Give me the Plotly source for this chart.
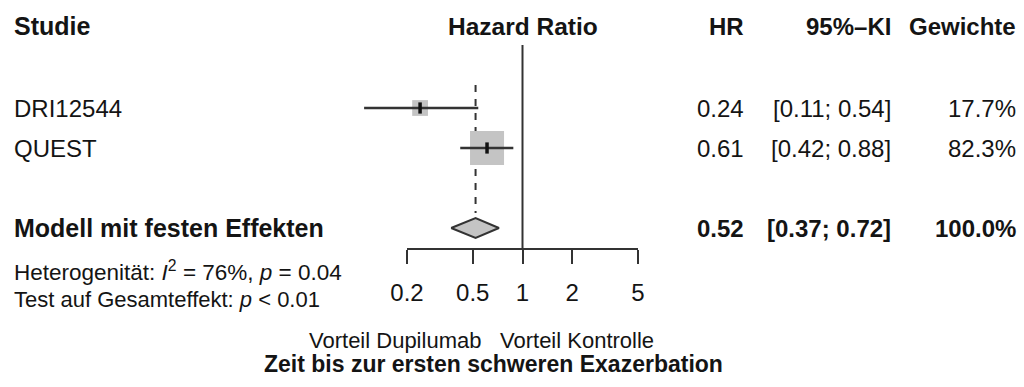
import math
import plotly.graph_objects as go

# ---- data ----
studies = ["DRI12544", "QUEST"]
hr = [0.24, 0.61]
ci_low = [0.11, 0.42]
ci_high = [0.54, 0.88]
weights = [17.7, 82.3]

pooled_label = "Modell mit festen Effekten"
pooled_hr = 0.52
pooled_low = 0.37
pooled_high = 0.72
pooled_weight = 100.0

tick_vals = [0.2, 0.5, 1, 2, 5]
tick_text = ["0.2", "0.5", "1", "2", "5"]

heterogeneity = "Heterogenität: <i>I</i><sup>2</sup> = 76%, <i>p</i> = 0.04"
overall_test = "Test auf Gesamteffekt: <i>p</i> < 0.01"
label_left = "Vorteil Dupilumab"
label_right = "Vorteil Kontrolle"
title = "Zeit bis zur ersten schweren Exazerbation"

# ---- layout geometry ----
W, H = 1024, 387
FONT = "Liberation Sans, Arial, Helvetica, sans-serif"
TXT = "#141414"
LINE = "#333333"
FS = 24

study_rows = [1, 2]
pooled_row = 4
header_row = -1.05

ax_left_px, ax_right_px = 407, 638
ppd = (ax_right_px - ax_left_px) / (math.log10(tick_vals[-1]) - math.log10(tick_vals[0]))
x_lo = math.log10(tick_vals[0]) - ax_left_px / ppd
x_hi = math.log10(tick_vals[-1]) + (W - ax_right_px) / ppd

row0_px, row_h = 108, 40
y_top = 1 - row0_px / row_h
y_bot = 1 + (H - row0_px) / row_h

def px2y(p):
    return 1 + (p - row0_px) / row_h

fig = go.Figure()

# reference lines
fig.add_trace(go.Scatter(x=[1, 1], y=[px2y(45), px2y(249)], mode="lines",
                         line=dict(color=LINE, width=2), hoverinfo="skip"))
fig.add_trace(go.Scatter(x=[pooled_hr, pooled_hr], y=[px2y(85), px2y(213)], mode="lines",
                         line=dict(color=LINE, width=2, dash="7px,7px"), hoverinfo="skip"))

# study CI lines, squares, point marks
for r, h, lo, hi, w in zip(study_rows, hr, ci_low, ci_high, weights):
    fig.add_trace(go.Scatter(x=[h], y=[r], mode="markers",
                             marker=dict(symbol="square", size=3.75 * math.sqrt(w),
                                         color="#c4c4c4", line=dict(width=0)),
                             hoverinfo="skip"))
    fig.add_trace(go.Scatter(x=[lo, hi], y=[r, r], mode="lines",
                             line=dict(color=LINE, width=2.5), hoverinfo="skip"))
    fig.add_trace(go.Scatter(x=[h], y=[r], mode="markers",
                             marker=dict(symbol="line-ns", size=8,
                                         line=dict(color="#111111", width=3.5)),
                             hoverinfo="skip"))

# pooled diamond
dh = 0.25
fig.add_trace(go.Scatter(x=[pooled_low, pooled_hr, pooled_high, pooled_hr, pooled_low],
                         y=[pooled_row, pooled_row - dh, pooled_row, pooled_row + dh, pooled_row],
                         mode="lines", fill="toself", fillcolor="#c4c4c4",
                         line=dict(color=LINE, width=2), hoverinfo="skip"))

# invisible trace to host the visible axis
fig.add_trace(go.Scatter(x=tick_vals, y=[None] * len(tick_vals), xaxis="x2", yaxis="y",
                         mode="markers", hoverinfo="skip", showlegend=False))

ann = []

def text(x, y, s, anchor="left", bold=False, size=FS, xref="paper", yref="y"):
    if bold:
        s = "<b>" + s + "</b>"
    ann.append(dict(x=x, y=y, xref=xref, yref=yref, text=s, showarrow=False,
                    xanchor=anchor, yanchor="middle",
                    font=dict(family=FONT, size=size, color=TXT)))

# headers
text(12 / W, header_row, "Studie", bold=True, size=25)
text(0, header_row, "Hazard Ratio", anchor="center", bold=True, xref="x", size=24.5)
text(746 / W, header_row, "HR", anchor="right", bold=True)
text(893 / W, header_row, "95%–KI", anchor="right", bold=True)
text(1018 / W, header_row, "Gewichte", anchor="right", bold=True)

# study rows
for r, s, h, lo, hi, w in zip(study_rows, studies, hr, ci_low, ci_high, weights):
    text(12 / W, r, s)
    text(746 / W, r, f"{h:.2f}", anchor="right")
    text(893 / W, r, f"[{lo:.2f}; {hi:.2f}]", anchor="right")
    text(1018 / W, r, f"{w:.1f}%", anchor="right")

# pooled row
text(12 / W, pooled_row, pooled_label, bold=True, size=25)
text(746 / W, pooled_row, f"{pooled_hr:.2f}", anchor="right", bold=True)
text(893 / W, pooled_row, f"[{pooled_low:.2f}; {pooled_high:.2f}]", anchor="right", bold=True)
text(1018 / W, pooled_row, f"{pooled_weight:.1f}%", anchor="right", bold=True)

# footnotes
text(12 / W, px2y(271), heterogeneity, size=22.5)
text(12 / W, px2y(299), overall_test, size=22)
text(483 / W, px2y(340), label_left, anchor="right", size=22)
text(498 / W, px2y(340), label_right, anchor="left", size=22)
text(493 / W, px2y(364), title, anchor="center", bold=True, size=23)

fig.update_layout(
    width=W, height=H, margin=dict(l=0, r=0, t=0, b=0, autoexpand=False),
    paper_bgcolor="white", plot_bgcolor="rgba(0,0,0,0)",
    showlegend=False, annotations=ann,
    xaxis=dict(type="log", domain=[0, 1], range=[x_lo, x_hi], visible=False,
               fixedrange=True, automargin=False),
    xaxis2=dict(type="log", domain=[ax_left_px / W, ax_right_px / W],
                range=[math.log10(tick_vals[0]), math.log10(tick_vals[-1])],
                anchor="free", position=1 - 249 / H, automargin=False,
                tickvals=tick_vals, ticktext=tick_text,
                ticks="outside", ticklen=14, tickwidth=2, tickcolor=LINE,
                ticklabelstandoff=8,
                showline=True, linecolor=LINE, linewidth=2,
                showgrid=False, zeroline=False,
                tickfont=dict(family=FONT, size=FS, color=TXT)),
    yaxis=dict(domain=[0, 1], range=[y_bot, y_top], visible=False,
               fixedrange=True, automargin=False),
)

fig.write_html("out.html")
